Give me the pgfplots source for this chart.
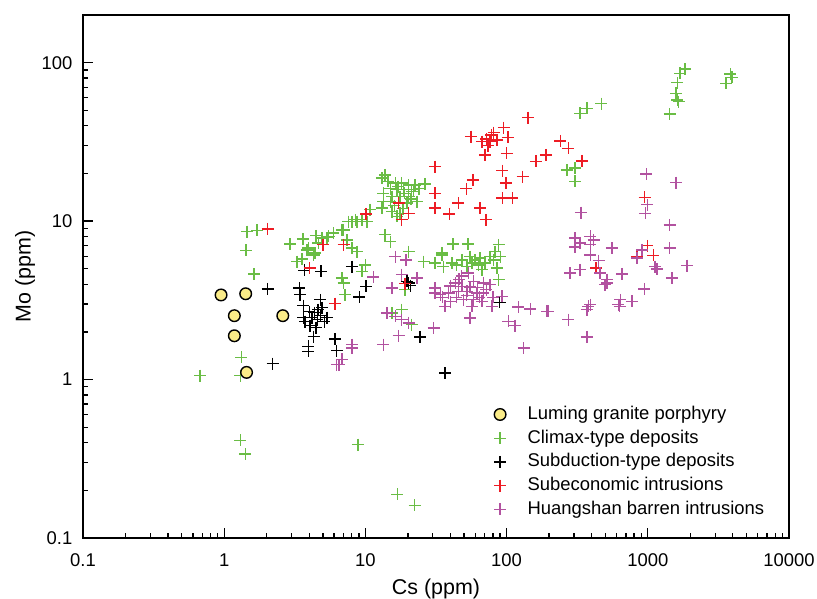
\documentclass[border=0pt]{standalone}
\usepackage{fontspec}
\setmainfont{Liberation Sans}
\usepackage{pgfplots}
\pgfplotsset{compat=1.18}
\usetikzlibrary{calc}
\definecolor{climax}{RGB}{106,189,69}
\definecolor{subecon}{RGB}{237,28,36}
\definecolor{huang}{RGB}{178,82,160}
\definecolor{luming}{RGB}{251,236,136}

\begin{document}
\begin{tikzpicture}
  \begin{axis}[
    scale only axis,
    width=706bp, height=523bp,
    xmode=log, ymode=log,
    xmin=0.1, xmax=10000, ymin=0.1, ymax=200,
    xtick={0.1,1,10,100,1000,10000},
    xticklabels={0.1,1,10,100,1000,10000},
    ytick={0.1,1,10,100},
    yticklabels={0.1,1,10,100},
    tick pos=left,
    tick align=inside,
    major tick length=10.5bp, minor tick length=5bp,
    every tick/.style={black, line width=1.3bp},
    axis line style={line width=1.6bp},
    tick label style={font=\fontsize{18.5}{22}\selectfont},
    xticklabel style={anchor=base, inner sep=0pt, yshift=-28bp},
    yticklabel style={anchor=east, inner sep=0pt, xshift=-10.5bp},
    xlabel={Cs (ppm)}, ylabel={Mo (ppm)},
    label style={font=\fontsize{21.5}{25}\selectfont},
    xlabel style={at={(axis description cs:0.5,0)}, anchor=base, yshift=-56bp},
    ylabel style={at={(axis description cs:-0.074,0.5)}, anchor=base},
    legend cell align=left,
    legend style={draw=none, fill=none, at={(0.582,0.2547)}, anchor=north west,
      inner sep=0pt, row sep=4.75bp, column sep=21bp,
      font=\fontsize{18.5}{22}\selectfont,
      nodes={inner sep=0.5bp, text height=14bp, text depth=4bp}},
    clip=false,
  ]
    \addlegendimage{only marks, mark=*, mark size=5.8bp, draw=black, fill=luming, line width=1.4bp}
    \addlegendentry{Luming granite porphyry}

    % Climax-type deposits
    \addplot[only marks, mark=+, mark size=6bp, climax, line width=1.4bp] coordinates {
      (0.676,1.06)(1.30,1.06)(1.32,1.38)(1.30,0.413)(1.41,0.340)(8.85,0.388)(16.8,0.189)(22.3,0.161)
      (1.43,6.53)(1.63,4.63)(1.45,8.60)(1.71,8.73)(2.93,7.16)(3.61,7.71)(4.46,8.08)(5.34,7.85)
      (3.85,6.59)(4.29,6.13)(3.55,5.76)(3.27,5.56)(4.65,7.27)(4.92,7.82)(6.82,8.81)(7.59,9.94)
      (8.47,10.2)(3.95,6.76)(4.41,6.28)
      (13.8,19.6)(13.1,18.7)(16.3,17.4)(18.1,17.4)(20.2,16.9)(22.5,16.9)(26.5,17.2)(16.7,15.8)
      (18.6,15.8)(21.3,15.4)(13.4,15.0)(15.4,14.3)(17.6,14.3)(20.2,14.3)(13.4,13.3)(15.0,13.3)
      (23.2,13.3)(19.7,13.0)(13.1,12.1)(15.4,11.5)(17.6,11.2)(16.7,10.7)
      (17.0,16.5)(19.0,15.0)(14.5,17.8)(22.0,15.8)(21.0,13.8)(16.0,12.5)(18.5,12.0)(24.0,16.0)(15.0,16.0)
      (10.8,11.8)(10.25,9.94)(8.71,9.94)(8.02,9.94)(9.44,10.2)(7.0,8.81)(5.94,8.40)(5.48,8.0)
      (7.39,7.62)(8.02,6.76)(8.71,6.43)(9.97,5.30)(9.44,4.81)(6.82,4.37)(7.0,4.07)(7.19,3.43)
      (13.8,8.20)(15.0,7.43)(20.2,6.43)(25.8,5.56)(31.2,5.43)(34.8,6.13)(35.7,5.17)(19.1,3.69)
      (18.1,2.76)(15.4,2.63)(20.2,2.28)(21.3,2.22)
      (41.7,7.16)(53.2,7.16)(34.8,6.28)(41.0,5.43)(48.2,5.70)(55.2,5.98)(59.9,5.70)(65.0,5.84)
      (56.8,5.43)(63.2,5.30)(70.5,5.43)(76.5,5.98)(83.0,6.43)(87.7,7.09)(80.8,5.70)(85.4,5.05)
      (87.7,4.27)(66.8,4.93)(52.3,5.17)(90.1,5.98)(44.0,5.30)
      (468,55.1)(371,51.5)(332,47.9)(267,21.0)(306,21.6)(306,17.8)
      (1839,91.2)(1694,85.7)(1623,74.7)(1582,64.1)(1623,58.1)(1650,56.7)(1426,47.4)
      (3834,84.7)(3943,80.8)(3589,74.1)
    };
    \addlegendentry{Climax-type deposits}

    % Subduction-type deposits
    \addplot[only marks, mark=+, mark size=6bp, black, line width=1.4bp] coordinates {
      (2.03,3.74)(2.20,1.26)(3.41,3.78)(3.45,3.43)(3.69,4.88)(4.86,4.81)(8.02,5.17)(10.1,3.87)
      (9.08,3.32)(19.7,4.16)(20.8,3.91)(20.2,4.07)(24.4,1.86)(36.7,1.10)(89.1,3.07)(3.95,1.62)
      (3.95,1.51)(4.29,1.87)(6.11,1.80)(6.27,1.52)
      (3.63,2.93)(3.74,2.32)(3.63,2.46)(4.0,2.68)(4.2,2.46)(4.34,2.64)(4.56,2.39)(4.79,2.53)
      (4.94,2.84)(5.11,2.32)(4.48,2.13)(4.06,2.19)(4.79,3.19)(5.36,2.46)(4.63,2.76)
    };
    \addlegendentry{Subduction-type deposits}

    % Subeconomic intrusions
    \addplot[only marks, mark=+, mark size=6bp, subecon, line width=1.4bp] coordinates {
      (2.03,8.94)(5.0,7.09)(4.02,5.05)(6.11,3.01)(19.1,4.03)(7.0,7.09)(10.1,11.1)(17.2,13.0)
      (20.2,11.2)(18.1,10.2)(31.2,22.1)(31.2,15.0)(31.2,12.1)(39.4,11.1)(45.6,13.0)(55.9,34.1)
      (66.8,31.7)(76.5,31.7)(85.4,32.5)(80.8,36.2)(95.1,38.9)(102,33.8)(70.5,26.2)(100,26.8)
      (142,45.0)(57.7,18.2)(51.8,16.0)(93.5,20.8)(98.9,17.4)(93.5,14.0)(110,14.0)(130,19.1)
      (65.0,12.1)(71.3,10.2)(161,23.8)(190,26.2)(240,32.1)(274,28.8)(341,24.0)(948,14.1)
      (995,6.99)(1097,6.07)(837,5.98)(431,5.05)(72,33)(78,35)(74,30)
    };
    \addlegendentry{Subeconomic intrusions}

    % Huangshan barren intrusions
    \addplot[only marks, mark=+, mark size=6bp, huang, line width=1.4bp] coordinates {
      (16.3,5.98)(19.4,5.70)(23.2,4.37)(15.4,3.78)(11.4,4.44)(16.3,2.51)(18.1,2.39)(20.2,2.28)
      (30.4,2.12)(17.2,1.89)(13.4,1.66)(8.02,1.66)(31.2,3.78)(33.9,3.43)(36.7,2.90)(38.8,3.52)
      (18.1,4.59)(53.7,4.70)(31.2,3.52)(43.3,4.07)(48.2,3.87)(58.3,4.16)(68.6,4.07)(76.5,3.97)
      (45.6,3.60)(52.3,3.60)(61.6,3.52)(68.6,3.52)(49.5,3.19)(58.3,3.19)(66.8,3.11)(78.7,2.90)
      (92.6,3.35)(55.2,2.45)(103,2.33)(115,2.19)(121,2.87)(147,2.79)(193,2.69)(132,1.58)
      (274,2.39)(371,2.76)(380,2.90)(371,1.86)(6.82,1.34)(620,2.97)(771,3.11)(513,4.07)
      (14.2,2.63)(6.27,1.24)(8.02,1.58)(6.5,1.24)
      (40,3.9)(46,4.3)(55,3.85)(62,3.8)(72,3.7)(44,3.3)(52,3.4)(64,3.3)(57,2.9)(40,3.1)
      (80,3.3)(48,4.5)(35,3.3)
      (975,19.8)(1589,17.5)(336,11.3)(995,12.7)(959,11.2)(1426,9.48)(306,7.81)(391,8.0)
      (413,7.62)(332,7.27)(391,7.09)(306,6.86)(557,6.76)(391,6.13)(448,5.64)(908,6.59)
      (837,5.84)(1426,6.76)(1892,5.23)(1128,5.17)(1159,4.99)(1483,4.37)(944,3.74)(282,4.70)
      (332,4.93)(460,4.70)(513,4.27)(499,3.97)(656,4.65)(638,3.19)(631,2.90)(391,2.97)(198,2.69)
    };
    \addlegendentry{Huangshan barren intrusions}

    % Luming granite porphyry
    \addplot[only marks, mark=*, mark size=5.8bp, draw=black, fill=luming, line width=1.4bp, forget plot] coordinates {
      (0.95,3.42)(1.42,3.48)(1.18,2.53)(2.6,2.53)(1.18,1.89)(1.44,1.11)
    };
  \end{axis}
  \pgfresetboundingbox
  \path ($(current axis.south west)+(-83bp,-61bp)$) rectangle ($(current axis.north east)+(28bp,15bp)$);
\end{tikzpicture}
\end{document}
